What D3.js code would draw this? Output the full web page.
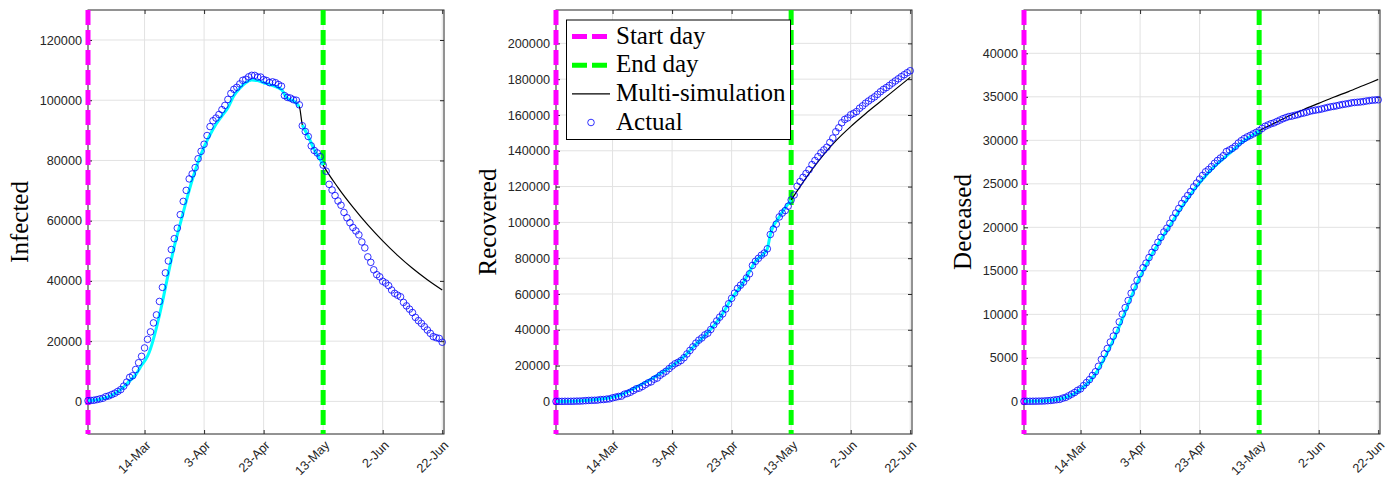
<!DOCTYPE html>
<head>
<meta charset="utf-8">
<style>
  body { margin: 0; background-color: white; }
  svg { background-color: white; }
  .axis text {
    font-family: 'Liberation Sans', Arial, sans-serif;
    font-size: 12.7px;
    fill: #262626;
  }
  .axis line { stroke: #262626; }
  .grid line { stroke: #e2e2e2; stroke-width: 1; }
  .ylabel {
    font-family: 'Liberation Serif', 'Times New Roman', serif;
    font-size: 25px;
    fill: #000;
  }
  .legend text {
    font-family: 'Liberation Serif', 'Times New Roman', serif;
    font-size: 25px;
    fill: #000;
  }
</style>
</head>
<body>
<script src="https://d3js.org/d3.v7.min.js"></script>
<script>

// DATA  (day 0 = 24-Feb, one value per day up to 22-Jun)
var tickDays = [19, 39, 59, 79, 99, 119];
var tickLabels = ['14-Mar', '3-Apr', '23-Apr', '13-May', '2-Jun', '22-Jun'];
var startDay = 0;
var endDay = 79;

var infectedActual = [221, 311, 385, 588, 821, 1049, 1577, 1835, 2263, 2706,
  3296, 3916, 5061, 6387, 7985, 8514, 10590, 12839, 14955, 17750,
  20603, 23073, 26062, 28710, 33190, 37860, 42681, 46638, 50418, 54030,
  57521, 62013, 66414, 70065, 73880, 75528, 77635, 80572, 83049, 85388,
  88274, 91246, 93187, 94067, 95262, 96877, 98273, 100269, 102253, 103616,
  104291, 105418, 106607, 106962, 107771, 108257, 108237, 107709, 107699, 106848,
  106527, 105847, 106103, 105813, 105205, 104657, 101551, 100943, 100704, 100179,
  99980, 98467, 91528, 89624, 87961, 84842, 83324, 82488, 81266, 78457,
  76440, 72070, 70187, 68351, 66553, 65129, 62752, 60960, 59322, 57752,
  56594, 55300, 52942, 50966, 47986, 46175, 43691, 42075, 41367, 39893,
  39297, 38429, 36976, 35877, 35262, 34730, 32872, 31710, 30637, 29500,
  27900, 26800, 25909, 24800, 23700, 22600, 21500, 21150, 20900, 19650];

var recoveredActual = [1, 1, 3, 45, 46, 50, 83, 149, 160, 276,
  414, 523, 589, 622, 724, 1004, 1045, 1258, 1439, 1966,
  2335, 2749, 2941, 4025, 4440, 5129, 6072, 7024, 7432, 8326,
  9362, 10361, 10950, 12384, 13030, 14620, 15729, 16847, 18278, 19758,
  20996, 21815, 22837, 24392, 26491, 28470, 30455, 32534, 34211, 35435,
  37130, 38092, 40164, 42727, 44927, 47055, 48877, 51600, 54543, 57576,
  60498, 63120, 64928, 66624, 68941, 71252, 75945, 78249, 79914, 81654,
  82879, 85231, 93245, 96276, 99023, 103031, 105186, 106587, 109039, 112541,
  115288, 120205, 122810, 125176, 127326, 129401, 132282, 134560, 136720, 138840,
  140479, 141981, 144658, 147101, 150604, 152844, 155633, 157507, 158355, 160092,
  160938, 161895, 163781, 165078, 166584, 167800, 169000, 170100, 171500, 173000,
  174300, 175300, 176500, 177800, 179000, 180200, 181400, 182500, 183600, 184700];

var deceasedActual = [7, 10, 12, 17, 21, 29, 34, 52, 79, 107,
  148, 197, 233, 366, 463, 631, 827, 1016, 1266, 1441,
  1809, 2158, 2503, 2978, 3405, 4032, 4825, 5476, 6077, 6820,
  7503, 8165, 9134, 10023, 10779, 11591, 12428, 13155, 13915, 14681,
  15362, 15887, 16523, 17127, 17669, 18279, 18849, 19468, 19899, 20465,
  21067, 21645, 22170, 22745, 23227, 23660, 24114, 24648, 25085, 25549,
  25969, 26384, 26644, 26977, 27359, 27682, 27967, 28236, 28710, 28884,
  29079, 29315, 29684, 29958, 30201, 30395, 30560, 30739, 30911, 31106,
  31368, 31610, 31763, 31908, 32007, 32169, 32330, 32486, 32616, 32735,
  32785, 32877, 32955, 33072, 33142, 33229, 33340, 33415, 33475, 33530,
  33601, 33689, 33774, 33846, 33899, 33964, 34043, 34114, 34167, 34223,
  34301, 34345, 34371, 34405, 34448, 34514, 34561, 34610, 34634, 34657];

// multi-simulation (fit up to end day, forecast after)
var infectedSimDays = [0, 4, 8, 11, 14, 16, 18, 20, 21, 23, 25, 27, 29, 31, 33, 35, 37, 39, 41, 43,
  45, 47, 49, 51, 53, 55, 57, 59, 61, 63, 65, 67, 69, 71, 72, 74, 76, 78, 79,
  84, 89, 94, 99, 104, 109, 114, 119];
var infectedSim = [221, 700, 2000, 3900, 6800, 8800, 12000, 15000, 17500, 24500, 33000, 42500, 51500, 59000, 66500, 73500, 79500, 84500, 88500, 92000,
  94800, 97500, 101500, 104000, 105800, 106700, 106500, 105800, 105200, 104500, 103500, 100600, 99800, 97900, 91800, 88000, 83600, 80300, 78457,
  71000, 64500, 58600, 53300, 48500, 44200, 40400, 37000];
var infectedFitBreak = 71;

var recoveredSimDays = [0, 5, 10, 15, 19, 23, 27, 31, 35, 39, 43, 47, 51, 55, 59, 63, 66, 67, 70, 71, 72, 75, 79,
  82, 86, 90, 94, 99, 104, 109, 114, 119];
var recoveredSim = [1, 60, 500, 1300, 2300, 4500, 8000, 11500, 15500, 19800, 25000, 32000, 38500, 46500, 57500, 66600, 75500, 78200, 82800, 85200, 93200, 103000, 112541,
  120000, 129500, 138000, 145500, 153500, 160700, 167500, 174300, 181000];

var deceasedSimDays = [0, 5, 10, 14, 17, 19, 22, 25, 28, 31, 34, 37, 40, 43, 46, 49, 52, 55, 58, 61, 64, 67, 70, 73, 76, 79,
  84, 89, 94, 99, 104, 109, 114, 119];
var deceasedSim = [7, 30, 150, 450, 900, 1400, 2300, 3700, 5600, 7800, 10300, 12800, 15000, 16900, 18600, 20200, 21800, 23300, 24700, 25900, 27000, 27900, 28800, 29700, 30400, 31106,
  31950, 32800, 33550, 34250, 34950, 35600, 36300, 37000];

var yLabels = ['Infected', 'Recovered', 'Deceased'];
var legendLabels = ['Start day', 'End day', 'Multi-simulation', 'Actual'];

// DIMENSIONS
width = 1397, height = 485;
panelLeft = [88, 556, 1024];
panelTop = 10, panelW = 356, panelH = 424;
labelGap = [60, 60, 53];

panels = [
  { actual: infectedActual, simDays: infectedSimDays, sim: infectedSim, brk: infectedFitBreak,
    yDomain: [-10830, 129960], yTicks: d3.range(0, 120001, 20000) },
  { actual: recoveredActual, simDays: recoveredSimDays, sim: recoveredSim, brk: null,
    yDomain: [-18220, 218640], yTicks: d3.range(0, 200001, 20000) },
  { actual: deceasedActual, simDays: deceasedSimDays, sim: deceasedSim, brk: null,
    yDomain: [-3748, 44976], yTicks: d3.range(0, 40001, 5000) }
];

svg = d3.select('body').append('svg')
  .attr('width', width)
  .attr('height', height);

panels.forEach(function(p, i) {
  var left = panelLeft[i];
  var xScale = d3.scaleLinear([0, 119.6], [left, left + panelW]);
  var yScale = d3.scaleLinear(p.yDomain, [panelTop + panelH, panelTop]);
  var g = svg.append('g');

  // GRID
  var grid = g.append('g').attr('class', 'grid');
  grid.selectAll('.vx').data(tickDays).join('line')
    .attr('x1', d => xScale(d)).attr('x2', d => xScale(d))
    .attr('y1', panelTop).attr('y2', panelTop + panelH);
  grid.selectAll('.hy').data(p.yTicks).join('line')
    .attr('x1', left).attr('x2', left + panelW)
    .attr('y1', d => yScale(d)).attr('y2', d => yScale(d));

  // AXES
  var xAxisG = g.append('g')
    .attr('class', 'axis')
    .attr('transform', `translate(0,${panelTop + panelH})`)
    .call(d3.axisBottom(xScale).tickValues(tickDays)
      .tickFormat((d, k) => tickLabels[k]).tickSizeInner(-4).tickSizeOuter(0));
  xAxisG.selectAll('text')
    .attr('x', 0).attr('y', 0).attr('dy', 0)
    .attr('text-anchor', 'end')
    .attr('transform', 'translate(6.5,12) rotate(-45)');

  g.append('g')
    .attr('class', 'axis')
    .attr('transform', `translate(0,${panelTop})`)
    .call(d3.axisTop(xScale).tickValues(tickDays).tickFormat('').tickSizeInner(-4).tickSizeOuter(0));

  g.append('g')
    .attr('class', 'axis')
    .attr('transform', `translate(${left},0)`)
    .call(d3.axisLeft(yScale).tickValues(p.yTicks).tickFormat(d3.format('d'))
      .tickSizeInner(-4).tickSizeOuter(0).tickPadding(6));

  g.append('g')
    .attr('class', 'axis')
    .attr('transform', `translate(${left + panelW},0)`)
    .call(d3.axisRight(yScale).tickValues(p.yTicks).tickFormat('').tickSizeInner(-4).tickSizeOuter(0));

  g.selectAll('.axis .domain').remove();
  g.selectAll('.axis text').attr('font-family', null).attr('font-size', null);

  g.append('rect')
    .attr('x', left).attr('y', panelTop)
    .attr('width', panelW).attr('height', panelH)
    .attr('fill', 'none')
    .attr('stroke', '#262626')
    .attr('stroke-width', 1);

  // Y LABEL
  g.append('text')
    .attr('class', 'ylabel')
    .attr('text-anchor', 'middle')
    .attr('transform', `translate(${left - labelGap[i]},${panelTop + panelH / 2}) rotate(-90)`)
    .text(yLabels[i]);

  // START / END DAY
  [[startDay, '#ff00ff'], [endDay, '#00ff00']].forEach(function(v) {
    g.append('line')
      .attr('x1', xScale(v[0])).attr('x2', xScale(v[0]))
      .attr('y1', panelTop).attr('y2', panelTop + panelH)
      .attr('stroke', v[1])
      .attr('stroke-width', 5)
      .attr('stroke-dasharray', '15,5');
  });

  // SIMULATION
  var sim = p.simDays.map((d, k) => ({ day: d, v: p.sim[k] }));
  var line = d3.line().curve(d3.curveMonotoneX)
    .x(d => xScale(d.day))
    .y(d => yScale(d.v));

  g.append('path')
    .datum(sim)
    .attr('d', line)
    .attr('fill', 'none')
    .attr('stroke', '#000')
    .attr('stroke-width', 1.2);

  var fit = sim.filter(d => d.day <= endDay);
  var fitParts = p.brk === null ? [fit]
    : [fit.filter(d => d.day <= p.brk), fit.filter(d => d.day > p.brk)];
  fitParts.forEach(function(part) {
    g.append('path')
      .datum(part)
      .attr('d', line)
      .attr('fill', 'none')
      .attr('stroke', '#00ffff')
      .attr('stroke-width', 3);
  });

  // ACTUAL
  g.append('g').selectAll('circle')
    .data(p.actual)
    .join('circle')
    .attr('cx', (d, k) => xScale(k))
    .attr('cy', d => yScale(d))
    .attr('r', 3.3)
    .attr('fill', 'none')
    .attr('stroke', '#0000ff')
    .attr('stroke-width', 0.8);
});

// LEGEND (middle panel)
legend = svg.append('g').attr('class', 'legend');
legend.append('rect')
  .attr('x', 566.5).attr('y', 20)
  .attr('width', 224).attr('height', 119.5)
  .attr('fill', 'white')
  .attr('stroke', '#000')
  .attr('stroke-width', 1);

legendRows = d3.scaleLinear([0, 3], [36.5, 122.5]);
legendStyles = [
  { color: '#ff00ff', width: 5, dash: '15,5' },
  { color: '#00ff00', width: 5, dash: '15,5' },
  { color: '#000', width: 1.2, dash: null }
];
legendStyles.forEach(function(s, k) {
  legend.append('line')
    .attr('x1', 572).attr('x2', 610)
    .attr('y1', legendRows(k)).attr('y2', legendRows(k))
    .attr('stroke', s.color)
    .attr('stroke-width', s.width)
    .attr('stroke-dasharray', s.dash);
});
legend.append('circle')
  .attr('cx', 591).attr('cy', legendRows(3))
  .attr('r', 3.3)
  .attr('fill', 'none')
  .attr('stroke', '#0000ff')
  .attr('stroke-width', 0.8);

legend.selectAll('.lt').data(legendLabels).join('text')
  .attr('x', 616)
  .attr('y', (d, k) => legendRows(k) + 7)
  .text(d => d);

</script>
</body>
